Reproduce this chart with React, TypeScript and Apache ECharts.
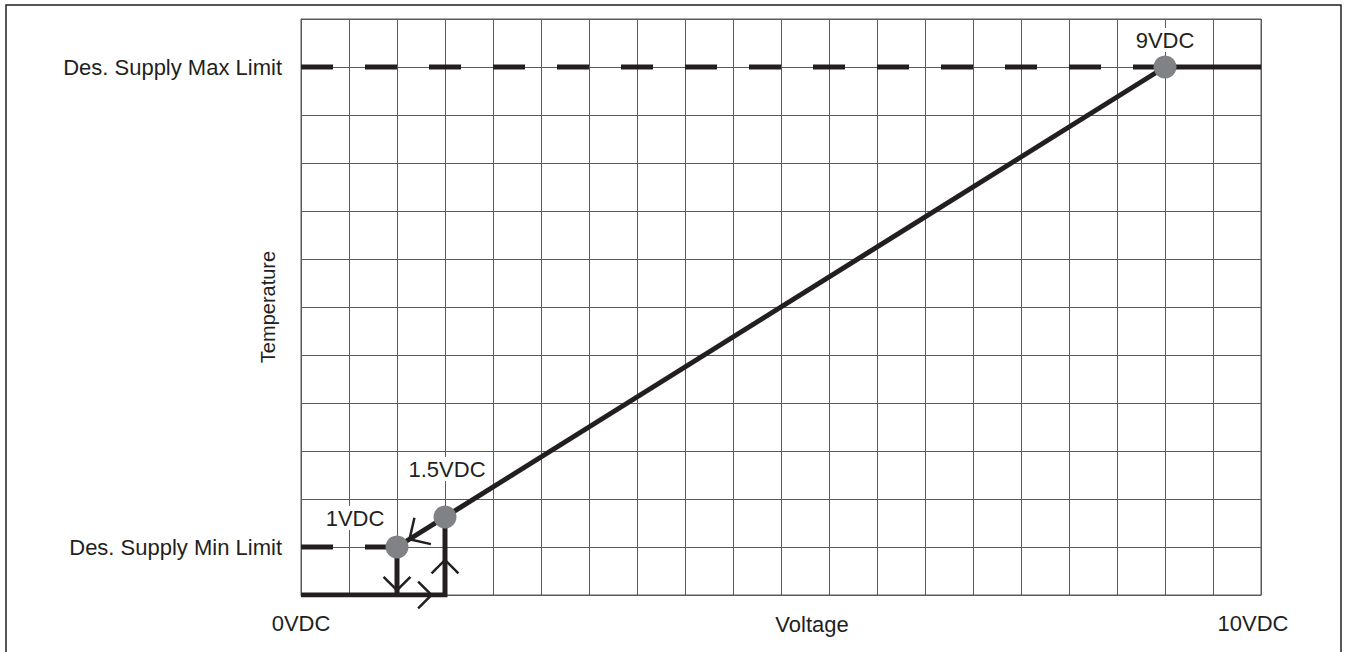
import React, { useEffect, useRef } from "react";
import * as echarts from "echarts";

// ---- data ----
const xTickLabels = [
  { value: 0, label: "0VDC" },
  { value: 10, label: "10VDC" },
];
const yTickLabels = [
  { value: 1, label: "Des. Supply Min Limit" },
  { value: 11, label: "Des. Supply Max Limit" },
];
const xAxisTitle = "Voltage";
const yAxisTitle = "Temperature";

const maxLimitDashed = [[0, 11], [9, 11]];
const maxLimitSolid = [[9, 11], [10, 11]];
const minLimitDashed = [[0, 1], [1, 1]];
const rampLine = [[1, 1], [9, 11]];
const dropLine = [[1, 1], [1, 0]];
const returnPath = [[0, 0], [1.5, 0], [1.5, 1.625]];

const setPoints = [[1, 1], [1.5, 1.625], [9, 11]];
const setPointLabels = ["1VDC", "1.5VDC", "9VDC"];

// arrows: [tipX, tipY, fromX, fromY]
const arrows = [
  [1, 0.1, 1, 0.6],
  [1.36, 0, 1.0, 0],
  [1.5, 0.73, 1.5, 0.3],
  [1.13, 1.1625, 1.5, 1.625],
];

const INK = "#231f20";
const GRIDC = "#5a5a5c";
const FONT = "'Liberation Sans', Arial, Helvetica, sans-serif";

export default function App() {
  const ref = useRef<HTMLDivElement>(null);
  useEffect(() => {
    if (!ref.current) return;
    const chart = echarts.init(ref.current, undefined, { renderer: "svg" });
    const labelOffsets = [
      [-42, -29],
      [2, -48],
      [0, -27],
    ];
    const armLengths = [19, 19, 19, 22];
    const lineSeries = (data: number[][], dashed: boolean) => ({
      type: "line",
      data,
      symbol: "none",
      silent: true,
      z: 3,
      lineStyle: {
        color: INK,
        width: 5,
        type: dashed ? [32, 32] : "solid",
        cap: "butt",
        join: "miter",
      },
    });
    const option: any = {
      animation: false,
      textStyle: { fontFamily: FONT },
      grid: {
        left: 301,
        right: 90,
        top: 19,
        bottom: 57,
        show: true,
        borderColor: GRIDC,
        borderWidth: 1,
        containLabel: false,
        outerBoundsMode: "none",
      },
      graphic: [
        {
          type: "rect",
          shape: { x: 6, y: 5, width: 1335, height: 700 },
          style: { fill: "none", stroke: INK, lineWidth: 1.5 },
          silent: true,
          z: 0,
        },
      ],
      xAxis: {
        type: "value",
        min: 0,
        max: 10,
        interval: 0.5,
        name: xAxisTitle,
        nameLocation: "middle",
        nameGap: 18,
        nameMoveOverlap: false,
        nameTextStyle: {
          fontSize: 22,
          color: INK,
          fontFamily: FONT,
          verticalAlign: "top",
          padding: [0, 0, 0, 62],
        },
        axisLine: { show: true, lineStyle: { color: GRIDC, width: 1 } },
        axisTick: { show: false },
        splitLine: { show: true, lineStyle: { color: GRIDC, width: 1 } },
        axisLabel: {
          margin: 17,
          fontSize: 22,
          color: INK,
          fontFamily: FONT,
          showMinLabel: true,
          showMaxLabel: true,
          formatter: (v: number) => {
            const t = xTickLabels.find((d) => Math.abs(d.value - v) < 1e-6);
            if (!t) return "";
            return t.value === 10 ? `{r|${t.label}}` : t.label;
          },
          rich: {
            r: { fontSize: 22, color: INK, fontFamily: FONT, padding: [0, 16, 0, 0] },
          },
        },
      },
      yAxis: {
        type: "value",
        min: 0,
        max: 12,
        interval: 1,
        name: yAxisTitle,
        nameLocation: "middle",
        nameRotate: 90,
        nameGap: 23,
        nameMoveOverlap: false,
        nameTextStyle: { fontSize: 20, color: INK, fontFamily: FONT },
        axisLine: { show: true, lineStyle: { color: GRIDC, width: 1 } },
        axisTick: { show: false },
        splitLine: { show: true, lineStyle: { color: GRIDC, width: 1 } },
        axisLabel: {
          margin: 19,
          fontSize: 22,
          color: INK,
          fontFamily: FONT,
          formatter: (v: number) => {
            const t = yTickLabels.find((d) => Math.abs(d.value - v) < 1e-6);
            return t ? t.label : "";
          },
        },
      },
      series: [
        lineSeries(maxLimitDashed, true),
        lineSeries(maxLimitSolid, false),
        lineSeries(minLimitDashed, true),
        lineSeries(rampLine, false),
        lineSeries(dropLine, false),
        lineSeries(returnPath, false),
        {
          type: "custom",
          silent: true,
          z: 4,
          data: arrows,
          encode: { x: 0, y: 1 },
          renderItem: (params: any, api: any) => {
            const tip = api.coord([api.value(0), api.value(1)]);
            const from = api.coord([api.value(2), api.value(3)]);
            let dx = tip[0] - from[0];
            let dy = tip[1] - from[1];
            const len = Math.hypot(dx, dy) || 1;
            dx /= len;
            dy /= len;
            const L = armLengths[params.dataIndex] || 19;
            const c = Math.cos(Math.PI / 4);
            const s = Math.sin(Math.PI / 4);
            const bx = -dx;
            const by = -dy;
            const a1 = [tip[0] + L * (bx * c - by * s), tip[1] + L * (bx * s + by * c)];
            const a2 = [tip[0] + L * (bx * c + by * s), tip[1] + L * (-bx * s + by * c)];
            return {
              type: "polyline",
              shape: { points: [a1, tip, a2] },
              style: { stroke: INK, lineWidth: 2.5, fill: null },
            };
          },
        },
        {
          type: "scatter",
          data: setPoints,
          symbol: "circle",
          symbolSize: 23,
          z: 5,
          silent: true,
          itemStyle: { color: "#808285", opacity: 1 },
          label: {
            show: true,
            position: "inside",
            fontSize: 22,
            color: INK,
            fontFamily: FONT,
            backgroundColor: "#fff",
            padding: [1, 2],
            formatter: (p: any) => setPointLabels[p.dataIndex],
          },
          labelLayout: (p: any) => {
            const o = labelOffsets[p.dataIndex];
            return { dx: o[0], dy: o[1] };
          },
        },
      ],
    };
    chart.setOption(option);
    return () => chart.dispose();
  }, []);
  return (
    <div
      ref={ref}
      style={{ position: "fixed", left: 0, top: 0, width: 1351, height: 652, background: "#fff" }}
    />
  );
}
